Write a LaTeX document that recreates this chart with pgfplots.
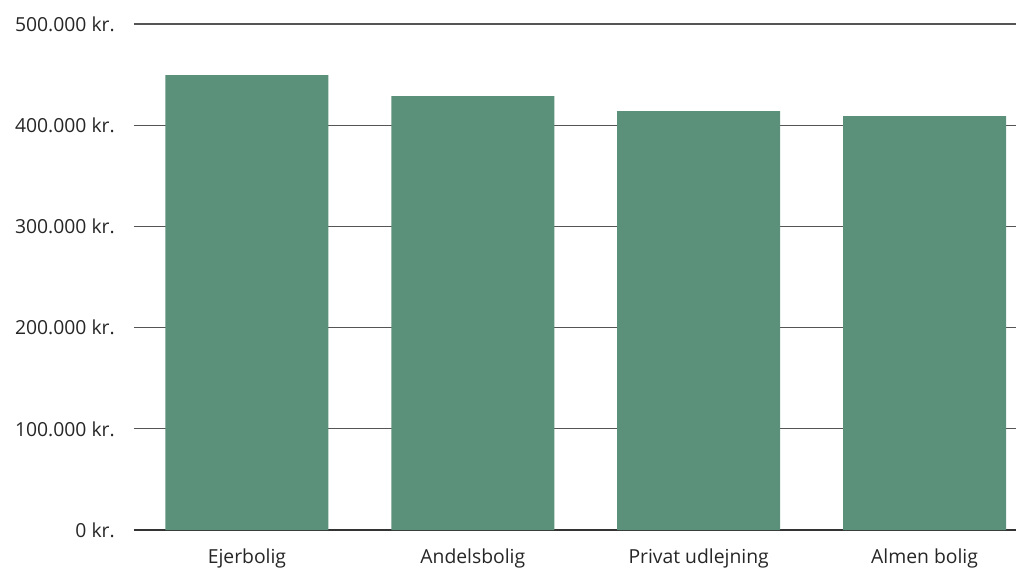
\documentclass[border=0pt]{standalone}
\usepackage{pgfplots}
\pgfplotsset{compat=1.18}
\usepackage{fontspec}
\setmainfont{Open Sans}
\definecolor{barg}{HTML}{5B917A}
\definecolor{gridc}{HTML}{555555}
\begin{document}
\begin{tikzpicture}
\begin{axis}[
  scale only axis,
  width=661.5pt, height=379.5pt,
  xmin=-0.5, xmax=3.405,
  ymin=0, ymax=500000,
  scaled y ticks=false,
  axis x line*=bottom,
  axis y line*=left,
  y axis line style={draw=none},
  x axis line style={draw=black!80, line width=0.8pt, -},
  xtick={0,1,2,3},
  xticklabels={Ejerbolig,Andelsbolig,Privat udlejning,Almen bolig},
  ytick={0,100000,200000,300000,400000,500000},
  yticklabels={0 kr.,100.000 kr.,200.000 kr.,300.000 kr.,400.000 kr.,500.000 kr.},
  ymajorgrids,
  grid style={draw=gridc, line width=0.8pt},
  major tick length=0pt,
  tick label style={font=\fontsize{14.5}{16}\selectfont, text=black!85},
  yticklabel style={anchor=east, inner sep=0pt, xshift=-14.25pt},
  xticklabel style={anchor=north, inner sep=0pt, yshift=-14pt},
  ybar, bar width=122.25pt,
  axis on top=false,
  clip=false,
]
\addplot[fill=barg, draw=none] coordinates {(0,449500) (1,428800) (2,414000) (3,409000)};
\end{axis}
\pgfresetboundingbox
\path ([shift={(-100.5pt,397.5pt)}]current axis.south west) rectangle ([shift={(661.5pt,-30.75pt)}]current axis.south west);
\end{tikzpicture}
\end{document}
